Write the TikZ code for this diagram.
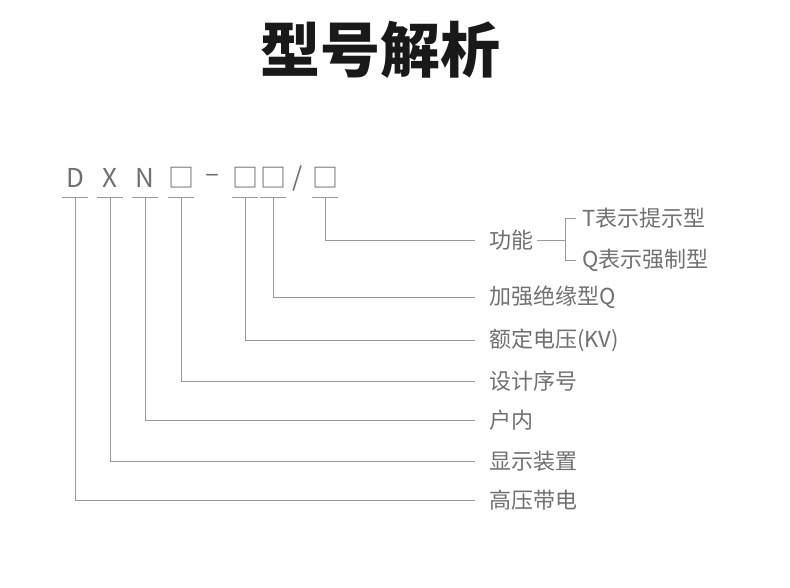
\documentclass[tikz,border=0pt]{standalone}
\usepackage{fontspec}
\setmainfont{Noto Sans CJK SC}
\definecolor{ln}{HTML}{999999}
\definecolor{tx}{HTML}{707070}
\begin{document}
\begin{tikzpicture}[x=1pt,y=-1pt,
  ch/.style={text=tx,font=\fontsize{26}{28}\selectfont,inner sep=0},
  lab/.style={text=tx,font=\fontsize{22}{24}\selectfont,anchor=west,inner sep=0},
  wire/.style={draw=ln,line width=0.9pt}]
\useasboundingbox (0,0) rectangle (790,587);
\node[font=\fontsize{60}{64}\selectfont\bfseries,text=black!90] (title) at (380,50) {型号解析};
\foreach \n/\x/\t in {c1/75/D,c2/110/X,c3/145/N,c4/181/\char"25A1,c5/212/–,c6/245/\char"25A1,c7/273/\char"25A1,c8/298/{/},c9/325/\char"25A1}
  \node[ch] (\n) at (\x,178) {\t};
\foreach \n/\x in {c1/75,c2/110,c3/145,c4/181,c6/245,c7/273,c9/325}
  \draw[wire] (\x-13,197) -- (\x+13,197);
\node[lab] (l1) at (489,240) {功能};
\node[lab] (l2) at (489,297) {加强绝缘型Q};
\node[lab] (l3) at (489,340) {额定电压(KV)};
\node[lab] (l4) at (489,381) {设计序号};
\node[lab] (l5) at (489,420) {户内};
\node[lab] (l6) at (489,461) {显示装置};
\node[lab] (l7) at (489,500) {高压带电};
\foreach \x/\l in {325/l1,273/l2,245/l3,181/l4,145/l5,110/l6,75/l7}
  \draw[wire] (\x,197) |- ([xshift=-14pt]\l.west);
\node[lab] (t1) at (582,218) {T表示提示型};
\node[lab] (t2) at (582,260) {Q表示强制型};
\coordinate (b) at (565,240);
\draw[wire] ([xshift=4pt]l1.east) -- (b);
\draw[wire] ([xshift=-6pt]t1.west) -- (565,218) -- (565,260) -- ([xshift=-6pt]t2.west);
\end{tikzpicture}
\end{document}
